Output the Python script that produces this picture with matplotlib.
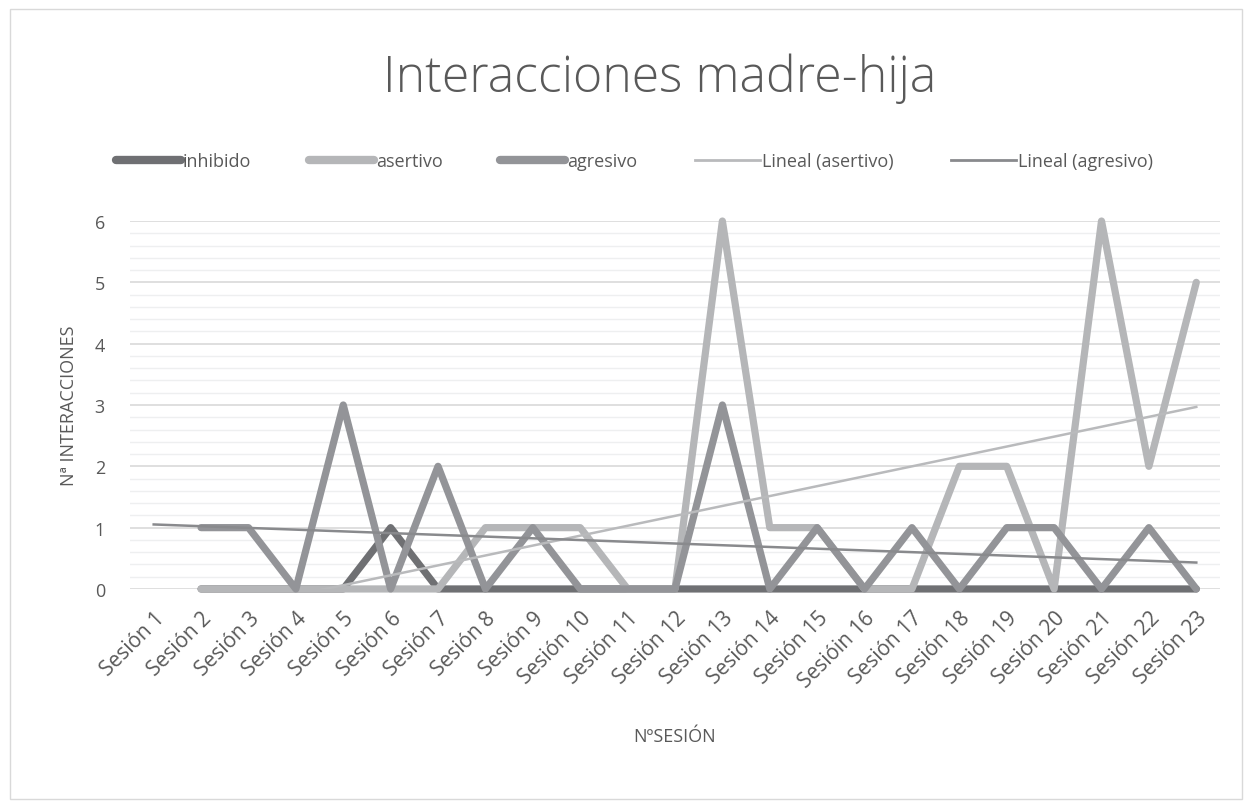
import numpy as np
import matplotlib.pyplot as plt
from matplotlib.patches import Rectangle
from matplotlib.lines import Line2D

plt.rcParams['font.family'] = ['Open Sans', 'DejaVu Sans']

sesiones = ["Sesión 1", "Sesión 2", "Sesión 3", "Sesión 4", "Sesión 5", "Sesión 6",
            "Sesión 7", "Sesión 8", "Sesión 9", "Sesión 10", "Sesión 11", "Sesión 12",
            "Sesión 13", "Sesión 14", "Sesión 15", "Sesióin 16", "Sesión 17", "Sesión 18",
            "Sesión 19", "Sesión 20", "Sesión 21", "Sesión 22", "Sesión 23"]
# sesion 1 has no data
inhibido = [np.nan, 0, 0, 0, 0, 1, 0, 0, 0, 0, 0, 0, 0, 0, 0, 0, 0, 0, 0, 0, 0, 0, 0]
asertivo = [np.nan, 0, 0, 0, 0, 0, 0, 1, 1, 1, 0, 0, 6, 1, 1, 0, 0, 2, 2, 0, 6, 2, 5]
agresivo = [np.nan, 1, 1, 0, 3, 0, 2, 0, 1, 0, 0, 0, 3, 0, 1, 0, 1, 0, 1, 1, 0, 1, 0]

c_inh = '#6f7073'
c_ase = '#b5b6b8'
c_agr = '#939498'
c_tr_ase = '#b9babc'
c_tr_agr = '#898a8d'
txt = '#595959'

x = np.arange(1, len(sesiones) + 1)

fig = plt.figure(figsize=(12.44, 8.03), dpi=100)
ax = fig.add_axes([0.1045, 0.2653, 0.8762, 0.4582])

# gridlines (major every 1, minor every 0.2)
ax.set_ylim(0, 6)
ax.set_xlim(0.5, len(sesiones) + 0.5)
ax.set_yticks(range(0, 7))
ax.set_yticks(np.arange(0, 6.01, 0.2), minor=True)
ax.grid(axis='y', which='minor', color='#eeeff0', lw=1.0)
ax.grid(axis='y', which='major', color='#d9d9d9', lw=1.2)
ax.set_axisbelow(True)
for s in ax.spines.values():
    s.set_visible(False)
ax.tick_params(axis='both', which='both', length=0, colors=txt, labelsize=13)
ax.tick_params(axis='y', pad=18)

kw = dict(lw=5.2, solid_capstyle='round', solid_joinstyle='round', clip_on=False)
ax.plot(x, inhibido, color=c_inh, **kw)
ax.plot(x, asertivo, color=c_ase, **kw)
ax.plot(x, agresivo, color=c_agr, **kw)

# linear trends
def trend(vals):
    v = np.array(vals, dtype=float)
    m = ~np.isnan(v)
    k, b = np.polyfit(x[m], v[m], 1)
    return k * x + b

ax.plot(x, trend(asertivo), color=c_tr_ase, lw=1.8)
ax.plot(x, trend(agresivo), color=c_tr_agr, lw=1.8)

ax.set_xticks(x)
ax.set_xticklabels(sesiones, rotation=45, ha='right', rotation_mode='anchor',
                   fontsize=15)
ax.tick_params(axis='x', pad=13)

ax.set_ylabel('Nª INTERACCIONES', color=txt, fontsize=13, labelpad=12)
ax.set_xlabel('NºSESIÓN', color=txt, fontsize=13, labelpad=26)

fig.text(0.53, 0.902, 'Interacciones madre-hija', ha='center', va='center',
         fontsize=36, color=txt, fontweight='light')

handles = [Line2D([], [], color=c_inh, lw=6, solid_capstyle='round'),
           Line2D([], [], color=c_ase, lw=6, solid_capstyle='round'),
           Line2D([], [], color=c_agr, lw=6, solid_capstyle='round'),
           Line2D([], [], color=c_tr_ase, lw=2),
           Line2D([], [], color=c_tr_agr, lw=2)]
labels = ['inhibido', 'asertivo', 'agresivo', 'Lineal (asertivo)', 'Lineal (agresivo)']
leg = fig.legend(handles, labels, loc='center', bbox_to_anchor=(0.51, 0.798), ncol=5,
                 frameon=False, fontsize=13, handlelength=3.6, handletextpad=0.1,
                 columnspacing=3.2, labelcolor=txt)

# outer chart border
fig.patches.append(Rectangle((0.008, 0.004), 0.99, 0.983, transform=fig.transFigure,
                             fill=False, edgecolor='#d9d9d9', lw=1))

fig.savefig('out.png', dpi=100)
